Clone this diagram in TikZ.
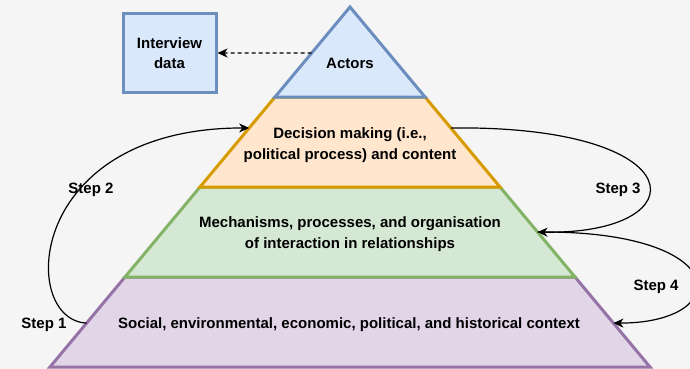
\documentclass[tikz,border=0pt]{standalone}
\usepackage{fontspec}
\setmainfont{Liberation Sans}
\usetikzlibrary{calc,arrows.meta}
\definecolor{bgcol}{RGB}{245,245,245}
\definecolor{bluefill}{HTML}{DAE8FC}
\definecolor{bluedraw}{HTML}{6C8EBF}
\definecolor{orangefill}{HTML}{FFE6CC}
\definecolor{orangedraw}{HTML}{D79B00}
\definecolor{greenfill}{HTML}{D5E8D4}
\definecolor{greendraw}{HTML}{82B366}
\definecolor{purplefill}{HTML}{E1D5E7}
\definecolor{purpledraw}{HTML}{9673A6}
\begin{document}
\begin{tikzpicture}[x=1pt,y=-1pt,
    layer/.style={line width=3pt, line join=miter},
    txt/.style={font=\fontsize{15}{20.5}\selectfont\bfseries, align=center},
    conn/.style={line width=1.2pt, -{Stealth[length=10pt,width=9pt,inset=3pt]}}]
      \useasboundingbox (0,0) rectangle (690,369);
      \fill[bgcol] (0,0) rectangle (690,369);
      \clip (0,0) rectangle (690,369);
      \coordinate (apex) at (350,7);
      \coordinate (bl) at (50,367);
      \coordinate (br) at (650,367);
      \foreach \i/\t in {1/0.25,2/0.5,3/0.75} {
        \coordinate (l\i) at ($(apex)!\t!(bl)$);
        \coordinate (r\i) at ($(apex)!\t!(br)$);
      }

      \draw[layer, draw=purpledraw, fill=purplefill] (l3) -- (r3) -- (br) -- (bl) -- cycle;
      \draw[layer, draw=greendraw, fill=greenfill] (l2) -- (r2) -- (r3) -- (l3) -- cycle;
      \draw[layer, draw=orangedraw, fill=orangefill] (l1) -- (r1) -- (r2) -- (l2) -- cycle;
      \draw[layer, draw=bluedraw, fill=bluefill] (apex) -- (r1) -- (l1) -- cycle;

      \node[txt] (actors) at (350,63) {Actors};
      \node[txt] (decision) at (350,145) {Decision making (i.e.,\\political process) and content};
      \node[txt] (mech) at (350,234) {Mechanisms, processes, and organisation\\of interaction in relationships};
      \node[txt] (context) at (349,325) {Social, environmental, economic, political, and historical context};

      \node[txt, draw=bluedraw, fill=bluefill, line width=3pt, minimum width=93pt, minimum height=78pt, inner sep=0pt] (interview) at (169.5,53) {Interview\\data};

      \coordinate (actw) at ($(apex)!0.128!(bl)$);
      \coordinate (decw) at ($(apex)!0.336!(bl)$);
      \coordinate (dece) at ($(apex)!0.336!(br)$);
      \coordinate (meche) at ($(apex)!0.625!(br)$);
      \coordinate (contw) at ($(apex)!0.878!(bl)$);
      \coordinate (conte) at ($(apex)!0.878!(br)$);

      \draw[conn, dash pattern=on 4pt off 3pt] (actw) -- (interview.east);
      \draw[conn] (contw) .. controls +(-68,-3) and +(-224,0) .. (decw);
      \draw[conn] (dece) .. controls +(247,-3) and +(162,3) .. (meche);
      \draw[conn] (meche) .. controls +(197,-2) and +(121,0) .. (conte);

      \node[txt] (step1) at (44,325) {Step 1};
      \node[txt] (step2) at (91,190) {Step 2};
      \node[txt] (step3) at (618,190) {Step 3};
      \node[txt] (step4) at (656,287) {Step 4};
    \end{tikzpicture}
\end{document}
